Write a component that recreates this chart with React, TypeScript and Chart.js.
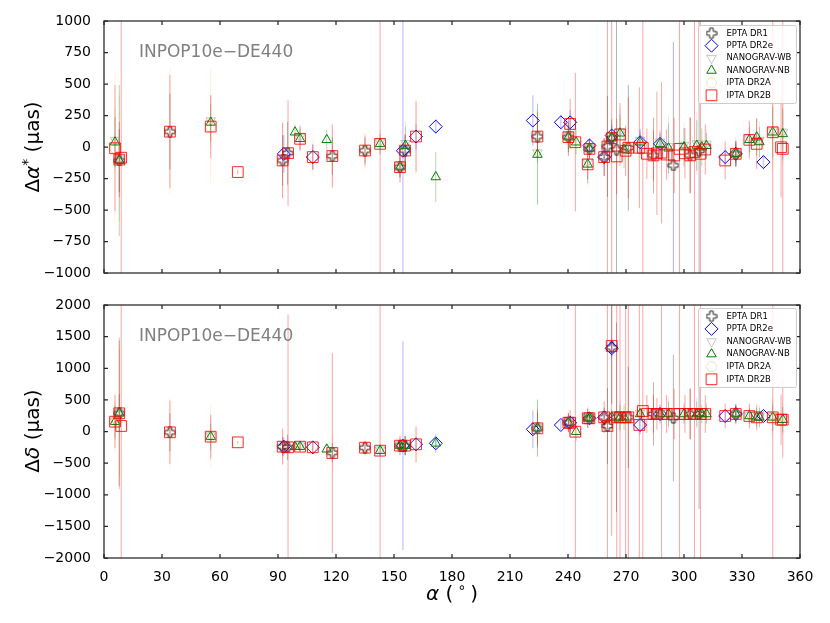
import { useEffect, useRef } from "react";
import { Chart, registerables } from "chart.js";
import { drawPoint } from "chart.js/helpers";

Chart.register(...registerables);

const FONT = "'DejaVu Sans', sans-serif";

// ---- data (RA in degrees, offsets and errors in µas) ----
const eptaRA = [7.9, 34.1, 92.4, 95.0, 118.1, 135.0, 153.1, 155.7, 224.2, 240.2, 251.1, 258.7, 260.4, 262.6, 265.1, 271.2, 284.2, 294.5, 303.2, 307.8, 326.8];
const eptaDA = [-107, 122, -107, -49, -72, -28, -160, -28, 83, 78, -15, -80, 4, 70, -20, -6, -67, -146, -67, -30, -54];
const eptaDAErr = [250, 300, 200, 250, 150, 100, 80, 120, 200, 150, 80, 150, 400, 150, 3000, 500, 300, 980, 300, 3000, 100];
const eptaDD = [288, -13, -240, -250, -335, -256, -224, -224, 50, 139, 209, 224, 87, 1330, 224, 224, 277, 213, 277, 277, 277];
const eptaDDErr = [300, 300, 150, 200, 150, 100, 80, 150, 300, 150, 80, 150, 600, 900, 1500, 800, 500, 1000, 400, 1500, 150];

const pptaRA = [93.0, 108.0, 154.6, 161.4, 171.6, 221.8, 236.3, 241.1, 251.1, 258.7, 262.6, 277.3, 287.6, 321.3, 326.8, 341.1];
const pptaDA = [-55, -80, -30, 83, 162, 210, 196, 196, 12, -80, 91, 38, 25, -80, -54, -120];
const pptaDAErr = [150, 100, 1500, 100, 60, 200, 60, 100, 60, 60, 80, 100, 100, 60, 80, 60];
const pptaDD = [-240, -250, -224, -203, -187, 35, 103, 139, 209, 224, 1315, 103, 277, 245, 277, 245];
const pptaDDErr = [150, 100, 1650, 100, 80, 300, 80, 120, 60, 60, 150, 150, 150, 80, 100, 80];

const wbRA = [5.7, 7.9, 55.2, 101.4, 142.8, 153.1, 155.9, 224.2, 240.2, 250.2, 251.1, 262.6, 266.9, 277.3, 287.6, 292.0, 300.0, 306.6, 311.6, 326.8, 333.8, 339.0, 345.9, 351.1];
const wbDA = [55, -90, 210, 80, 40, -145, 30, -45, 95, -120, 0, 85, 125, 55, 40, 5, 15, 28, 25, -40, 72, 55, 132, 120];
const wbDAErr = [250, 500, 200, 100, 100, 100, 180, 400, 120, 180, 80, 100, 180, 100, 100, 250, 180, 250, 120, 120, 120, 150, 250, 250];
const wbDD = [170, 305, -65, -225, -288, -210, -210, 65, 155, 225, 225, 240, 240, 292, 292, 292, 292, 292, 292, 292, 260, 240, 240, 202];
const wbDDErr = [300, 1000, 250, 100, 100, 120, 180, 450, 150, 180, 80, 120, 250, 120, 120, 250, 180, 250, 180, 150, 150, 180, 250, 250];

const nbRA = [5.7, 7.9, 55.2, 98.8, 101.4, 115.2, 142.8, 153.1, 155.9, 171.6, 224.2, 240.2, 244.2, 250.2, 251.1, 262.6, 266.9, 269.0, 277.3, 287.6, 292.0, 300.0, 306.6, 309.2, 311.6, 326.8, 333.8, 337.6, 339.0, 345.9, 351.1];
const nbDA = [38, -107, 195, 117, 65, 57, 25, -160, 12, -238, -60, 78, 38, -138, -15, 70, 109, -20, 38, 25, -10, 0, 12, -2, 10, -54, 57, 78, 40, 117, 104];
const nbDAErr = [200, 600, 150, 60, 80, 80, 80, 80, 150, 200, 400, 100, 100, 150, 60, 80, 150, 150, 80, 80, 200, 150, 200, 150, 100, 100, 100, 150, 120, 200, 200];
const nbDD = [155, 288, -82, -240, -240, -281, -303, -224, -224, -187, 50, 139, -3, 209, 209, 224, 224, 224, 277, 277, 277, 277, 277, 277, 277, 277, 245, 224, 224, 224, 187];
const nbDDErr = [250, 1200, 200, 80, 80, 80, 80, 100, 150, 150, 450, 120, 150, 150, 60, 100, 200, 200, 100, 100, 200, 150, 200, 150, 150, 120, 120, 150, 150, 200, 200];

const dr2aRA = [5.7, 34.1, 55.2, 92.4, 108.0, 118.1, 135.0, 153.1, 161.4, 224.2, 240.2, 251.1, 258.7, 271.2, 284.2, 303.2, 326.8, 345.9];
const dr2aDA = [-10, 122, 162, -107, -80, -72, -28, -160, 83, 83, 78, -15, -80, -6, -67, -67, -54, 117];
const dr2aDAErr = [600, 500, 450, 300, 150, 250, 150, 120, 300, 200, 150, 80, 150, 400, 300, 300, 120, 300];
const dr2aDD = [155, -13, -82, -240, -250, -335, -256, -224, -203, 50, 139, 209, 224, 224, 277, 277, 277, 224];
const dr2aDDErr = [500, 550, 500, 300, 100, 300, 150, 150, 300, 250, 150, 100, 250, 500, 300, 400, 150, 300];

const dr2bRA = [5.7, 7.9, 8.9, 34.1, 55.2, 69.2, 92.4, 95.2, 101.4, 108.0, 118.1, 135.0, 142.8, 153.1, 155.7, 161.4, 224.2, 240.2, 241.1, 243.8, 250.2, 251.1, 258.7, 260.4, 262.6, 265.2, 266.9, 269.8, 271.2, 276.9, 278.7, 280.8, 284.2, 286.0, 288.4, 291.0, 294.9, 297.7, 300.5, 303.2, 305.4, 308.5, 311.0, 321.3, 326.8, 333.8, 337.6, 345.9, 350.2, 351.1];
const dr2bDA = [-10, -100, -85, 122, 162, -199, -107, -49, 65, -80, -72, -28, 25, -160, -28, 83, 83, 78, 183, 38, -138, -15, -80, 4, 70, -75, 99, -30, -6, -6, -6, -54, -67, -50, -45, -60, -67, -15, -50, -67, -40, -54, -20, -107, -54, 57, 25, 117, -2, -15];
const dr2bDAErr = [500, 300, 3000, 450, 250, 20, 300, 420, 100, 100, 250, 120, 3000, 120, 130, 280, 150, 120, 200, 550, 120, 80, 150, 3000, 3000, 300, 250, 200, 400, 480, 3000, 200, 200, 490, 560, 200, 300, 3000, 200, 300, 3000, 3000, 200, 150, 100, 150, 200, 3000, 400, 3000];
const dr2bDD = [155, 288, 87, -13, -82, -171, -240, -250, -240, -250, -340, -256, -303, -224, -224, -203, 50, 139, 139, -3, 209, 209, 224, 87, 1352, 224, 224, 224, 224, 103, 324, 277, 277, 277, 277, 277, 277, 277, 277, 277, 277, 277, 277, 245, 277, 245, 224, 224, 187, 187];
const dr2bDDErr = [420, 1150, 3000, 500, 350, 20, 280, 2100, 80, 80, 1580, 110, 3000, 150, 150, 280, 250, 150, 200, 3000, 150, 100, 250, 3000, 3000, 3000, 3000, 3000, 3000, 3000, 3000, 300, 300, 250, 3000, 300, 400, 3000, 300, 400, 3000, 3000, 300, 200, 150, 200, 200, 3000, 400, 600];

const seriesLabels = ["EPTA DR1", "PPTA DR2e", "NANOGRAV-WB", "NANOGRAV-NB", "IPTA DR2A", "IPTA DR2B"];
const panelTag = "INPOP10e\u2212DE440";

interface Series {
  label: string;
  ra: number[];
  dA: number[];
  dAErr: number[];
  dD: number[];
  dDErr: number[];
  style: string; // "plus" is a custom canvas
  radius: number;
  rotation: number;
  color: string;
  errColor: string;
  errWidth: number;
}

const SERIES: Series[] = [
  { label: seriesLabels[0], ra: eptaRA, dA: eptaDA, dAErr: eptaDAErr, dD: eptaDD, dDErr: eptaDDErr, style: "plus", radius: 5, rotation: 0, color: "rgba(0,0,0,0.85)", errColor: "rgba(0,0,0,0.3)", errWidth: 1 },
  { label: seriesLabels[1], ra: pptaRA, dA: pptaDA, dAErr: pptaDAErr, dD: pptaDD, dDErr: pptaDDErr, style: "rectRot", radius: 6.5, rotation: 0, color: "#0000ff", errColor: "rgba(0,0,255,0.2)", errWidth: 1.5 },
  { label: seriesLabels[2], ra: wbRA, dA: wbDA, dAErr: wbDAErr, dD: wbDD, dDErr: wbDDErr, style: "triangle", radius: 5.5, rotation: 180, color: "rgba(150,150,150,0.55)", errColor: "rgba(150,150,150,0.2)", errWidth: 1 },
  { label: seriesLabels[3], ra: nbRA, dA: nbDA, dAErr: nbDAErr, dD: nbDD, dDErr: nbDDErr, style: "triangle", radius: 5.5, rotation: 0, color: "#008000", errColor: "rgba(0,128,0,0.3)", errWidth: 1 },
  { label: seriesLabels[4], ra: dr2aRA, dA: dr2aDA, dAErr: dr2aDAErr, dD: dr2aDD, dDErr: dr2aDDErr, style: "circle", radius: 5, rotation: 0, color: "rgba(255,170,90,0.4)", errColor: "rgba(255,170,60,0.18)", errWidth: 1 },
  { label: seriesLabels[5], ra: dr2bRA, dA: dr2bDA, dAErr: dr2bDAErr, dD: dr2bDD, dDErr: dr2bDDErr, style: "rect", radius: 7.6, rotation: 0, color: "rgba(255,0,0,0.85)", errColor: "rgba(255,0,0,0.36)", errWidth: 1 },
];

interface Seg {
  t: string;
  f: string;
  dy?: number;
}

interface Panel {
  key: "a" | "d";
  min: number;
  max: number;
  step: number;
  top: number;
  xHeight: number;
  showX: boolean;
  tagY: number;
  legendTop: number;
  legendBottom: number;
  yTitle: Seg[];
  yTitleY: number;
}

const PANELS: Panel[] = [
  {
    key: "a", min: -1000, max: 1000, step: 250, top: 21, xHeight: 350, showX: false,
    tagY: 53, legendTop: 25, legendBottom: 103, yTitleY: 147,
    yTitle: [
      { t: "\u0394", f: `20px ${FONT}` },
      { t: "\u03b1", f: `italic 20px ${FONT}` },
      { t: "*", f: `14px ${FONT}`, dy: -7 },
      { t: " (\u03bcas)", f: `20px ${FONT}` },
    ],
  },
  {
    key: "d", min: -2000, max: 2000, step: 500, top: 305, xHeight: 65, showX: true,
    tagY: 337, legendTop: 308, legendBottom: 387, yTitleY: 431,
    yTitle: [
      { t: "\u0394", f: `20px ${FONT}` },
      { t: "\u03b4", f: `italic 20px ${FONT}` },
      { t: " (\u03bcas)", f: `20px ${FONT}` },
    ],
  },
];

const xTitle: Seg[] = [
  { t: "\u03b1", f: `italic 20px ${FONT}` },
  { t: " (\u2009", f: `20px ${FONT}` },
  { t: "\u2218", f: `14px ${FONT}`, dy: -8 },
  { t: "\u2009)", f: `20px ${FONT}` },
];

function makePlus(color: string): HTMLCanvasElement {
  const c = document.createElement("canvas");
  c.width = 12;
  c.height = 12;
  const g = c.getContext("2d")!;
  const m = 6, a = 1.8, l = 5;
  g.strokeStyle = color;
  g.lineWidth = 1;
  g.beginPath();
  g.moveTo(m - a, m - l);
  g.lineTo(m + a, m - l);
  g.lineTo(m + a, m - a);
  g.lineTo(m + l, m - a);
  g.lineTo(m + l, m + a);
  g.lineTo(m + a, m + a);
  g.lineTo(m + a, m + l);
  g.lineTo(m - a, m + l);
  g.lineTo(m - a, m + a);
  g.lineTo(m - l, m + a);
  g.lineTo(m - l, m - a);
  g.lineTo(m - a, m - a);
  g.closePath();
  g.stroke();
  return c;
}

function drawRich(ctx: CanvasRenderingContext2D, segs: Seg[], cx: number, cy: number, rotate: boolean) {
  ctx.save();
  ctx.translate(cx, cy);
  if (rotate) ctx.rotate(-Math.PI / 2);
  ctx.fillStyle = "#000";
  ctx.textAlign = "left";
  ctx.textBaseline = "alphabetic";
  let w = 0;
  segs.forEach((s) => {
    ctx.font = s.f;
    w += ctx.measureText(s.t).width;
  });
  let x = -w / 2;
  segs.forEach((s) => {
    ctx.font = s.f;
    ctx.fillText(s.t, x, 7 + (s.dy || 0));
    x += ctx.measureText(s.t).width;
  });
  ctx.restore();
}

function PanelChart({ panel }: { panel: Panel }) {
  const ref = useRef<HTMLCanvasElement>(null);

  useEffect(() => {
    if (!ref.current) return;
    const plus = makePlus(SERIES[0].color);
    const styleOf = (s: Series) => (s.style === "plus" ? plus : s.style);

    const chart = new Chart(ref.current, {
      type: "scatter",
      data: {
        datasets: SERIES.map((s, i) => ({
          label: s.label,
          data: s.ra.map((r, j) => ({ x: r, y: panel.key === "a" ? s.dA[j] : s.dD[j] })),
          pointStyle: styleOf(s) as any,
          pointRadius: s.radius,
          rotation: s.rotation,
          borderColor: s.color,
          backgroundColor: "rgba(0,0,0,0)",
          borderWidth: 1,
          order: SERIES.length - i,
        })),
      },
      options: {
        responsive: false,
        animation: false,
        events: [],
        layout: { padding: { top: panel.top, right: 30, left: 0, bottom: 0 } },
        plugins: { legend: { display: false }, tooltip: { enabled: false } },
        scales: {
          x: {
            type: "linear",
            min: 0,
            max: 360,
            ticks: {
              stepSize: 30,
              display: panel.showX,
              autoSkip: false,
              maxRotation: 0,
              padding: 3,
              color: "#000",
              font: { family: FONT, size: 14 },
            },
            grid: { display: false },
            border: { display: false },
            afterFit: (s: any) => {
              s.height = panel.xHeight;
            },
          },
          y: {
            type: "linear",
            min: panel.min,
            max: panel.max,
            ticks: {
              stepSize: panel.step,
              padding: 5,
              color: "#000",
              font: { family: FONT, size: 14 },
              callback: (v: any) => String(v).replace("-", "\u2212"),
            },
            grid: { display: false },
            border: { display: false },
            afterFit: (s: any) => {
              s.width = 104;
            },
          },
        },
      },
      plugins: [
        {
          id: "errorBars",
          beforeDatasetsDraw(c: any) {
            const { ctx, chartArea: a, scales } = c;
            ctx.save();
            ctx.beginPath();
            ctx.rect(a.left, a.top, a.right - a.left, a.bottom - a.top);
            ctx.clip();
            SERIES.forEach((s) => {
              const vals = panel.key === "a" ? s.dA : s.dD;
              const errs = panel.key === "a" ? s.dAErr : s.dDErr;
              ctx.strokeStyle = s.errColor;
              ctx.lineWidth = s.errWidth;
              s.ra.forEach((r, j) => {
                const px = scales.x.getPixelForValue(r);
                ctx.beginPath();
                ctx.moveTo(px, scales.y.getPixelForValue(vals[j] - errs[j]));
                ctx.lineTo(px, scales.y.getPixelForValue(vals[j] + errs[j]));
                ctx.stroke();
              });
            });
            ctx.restore();
          },
        },
        {
          id: "decor",
          afterDraw(c: any) {
            const { ctx, chartArea: a, scales } = c;
            ctx.save();
            // frame and inward ticks
            ctx.strokeStyle = "#262626";
            ctx.lineWidth = 1.25;
            ctx.strokeRect(a.left, a.top, a.right - a.left, a.bottom - a.top);
            ctx.beginPath();
            scales.x.ticks.forEach((t: any) => {
              const px = scales.x.getPixelForValue(t.value);
              ctx.moveTo(px, a.bottom);
              ctx.lineTo(px, a.bottom - 4);
              ctx.moveTo(px, a.top);
              ctx.lineTo(px, a.top + 4);
            });
            scales.y.ticks.forEach((t: any) => {
              const py = scales.y.getPixelForValue(t.value);
              ctx.moveTo(a.left, py);
              ctx.lineTo(a.left + 4, py);
              ctx.moveTo(a.right, py);
              ctx.lineTo(a.right - 4, py);
            });
            ctx.stroke();

            // panel tag
            ctx.fillStyle = "#808080";
            ctx.font = `17px ${FONT}`;
            ctx.textAlign = "left";
            ctx.textBaseline = "middle";
            ctx.fillText(panelTag, 139, panel.tagY);

            // legend
            const lx = 698, lw = 98, lt = panel.legendTop, lh = panel.legendBottom - panel.legendTop;
            ctx.beginPath();
            ctx.roundRect(lx + 0.5, lt + 0.5, lw, lh, 2);
            ctx.fillStyle = "rgba(255,255,255,0.8)";
            ctx.fill();
            ctx.strokeStyle = "#cccccc";
            ctx.lineWidth = 1;
            ctx.stroke();
            const gap = (lh - 16) / (SERIES.length - 1);
            SERIES.forEach((s, i) => {
              const y = lt + 8.3 + i * gap;
              if (s.style === "plus") {
                ctx.drawImage(plus, 711.5 - 6, y - 6);
              } else {
                ctx.strokeStyle = s.color;
                ctx.fillStyle = "rgba(0,0,0,0)";
                ctx.lineWidth = 1;
                drawPoint(ctx, { pointStyle: s.style as any, radius: s.radius, rotation: s.rotation, borderWidth: 1 }, 711.5, y);
              }
              ctx.fillStyle = "#000";
              ctx.font = `8.5px ${FONT}`;
              ctx.textAlign = "left";
              ctx.textBaseline = "middle";
              ctx.fillText(s.label, 726.5, y);
            });

            // axis titles
            drawRich(ctx, panel.yTitle, 32, panel.yTitleY, true);
            if (panel.showX) drawRich(ctx, xTitle, 452, 593, false);
            ctx.restore();
          },
        },
      ],
    } as any);

    return () => chart.destroy();
  }, [panel]);

  return (
    <canvas
      ref={ref}
      width={830}
      height={623}
      style={{ position: "absolute", left: 0, top: 0, width: 830, height: 623 }}
    />
  );
}

export default function App() {
  return (
    <div style={{ position: "fixed", left: 0, top: 0, width: 830, height: 623, background: "#fff" }}>
      {PANELS.map((p) => (
        <PanelChart key={p.key} panel={p} />
      ))}
    </div>
  );
}
